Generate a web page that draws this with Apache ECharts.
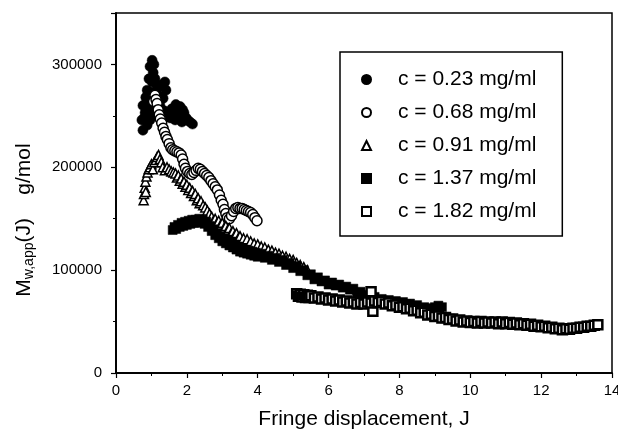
<!DOCTYPE html>
<html>
<head>
<meta charset="utf-8">
<script src="https://cdn.jsdelivr.net/npm/echarts@6/dist/echarts.min.js"></script>
<style>
	html, body { margin: 0; padding: 0; background: #fff; }
	#main { width: 618px; height: 432px; }
</style>
</head>
<body>
<div id="main"></div>
<script>
	// 图例名称
	var seriesNames = ['c = 0.23 mg/ml', 'c = 0.68 mg/ml', 'c = 0.91 mg/ml', 'c = 1.37 mg/ml', 'c = 1.82 mg/ml'];

	// x 轴刻度
	var xTicks = [0, 2, 4, 6, 8, 10, 12, 14];
	// y 轴刻度
	var yTicks = [0, 100000, 200000, 300000];

	// c = 0.23 mg/ml  [J, Mw]
	var c023 = [
		[0.76,236000],[0.73,246000],[0.82,253000],[0.76,260000],[0.88,241000],[0.90,265000],[0.96,273000],
		[0.88,275000],[1.02,283000],[0.93,286000],[1.05,292000],[0.96,298000],[1.02,304000],[1.07,300000],
		[1.10,286000],[1.16,277000],[1.02,260000],[1.07,250000],[0.96,246000],[0.84,268000],[1.19,270000],
		[1.27,280000],[1.38,283000],[1.41,275000],[1.33,267000],[1.24,260000],[1.36,255000],[1.47,253000],
		[1.58,257000],[1.69,261000],[1.81,259000],[1.75,251000],[1.67,246000],[1.92,253000],[1.98,248000],
		[2.09,244000],[2.16,242000],[1.86,244000],[1.53,248000],[1.62,252000],[1.88,256000],[2.02,246000],
		[0.80,248000],[0.92,256000],[1.12,268000]
	];

	// c = 0.68 mg/ml
	var c068 = [
		[1.06,264000],[1.10,270000],[1.13,266000],[1.16,262000],[1.19,256000],[1.22,251000],[1.25,247000],
		[1.29,243000],[1.33,238000],[1.37,234000],[1.41,230000],[1.45,227000],[1.50,223000],[1.55,219000],
		[1.60,217000],[1.66,216000],[1.72,215000],[1.78,214000],[1.84,212000],[1.88,208000],[1.92,203000],
		[1.96,199000],[2.02,196000],[2.08,194000],[2.14,193000],[2.20,195000],[2.26,197000],[2.32,199000],
		[2.38,198000],[2.44,196000],[2.50,194000],[2.56,192000],[2.62,190000],[2.68,187000],[2.74,184000],
		[2.80,181000],[2.86,178000],[2.92,173000],[2.97,168000],[3.02,164000],[3.06,159000],[3.10,155000],
		[3.14,151000],[3.20,150000],[3.26,153000],[3.32,157000],[3.38,160000],[3.44,161000],[3.50,160000],
		[3.56,160000],[3.62,159000],[3.68,158000],[3.74,157000],[3.80,156000],[3.86,154000],[3.92,151000],
		[3.98,148000]
	];

	// c = 0.91 mg/ml
	var c091 = [
		[0.78,168000],[0.79,174000],[0.81,180000],[0.83,186000],[0.86,191000],[0.89,195000],[0.92,198000],
		[0.84,176000],[0.96,200000],[1.00,203000],[1.04,198000],[1.08,205000],[1.12,207000],[1.16,210000],
		[1.20,212000],[1.24,208000],[1.28,205000],[1.32,200000],[1.38,197000],[1.44,200000],[1.50,198000],
		[1.56,196000],[1.62,195000],[1.68,194000],[1.72,190000],[1.76,192000],[1.80,187000],[1.84,189000],
		[1.88,184000],[1.92,186000],[1.96,181000],[2.00,183000],[2.04,178000],[2.08,180000],[2.12,175000],
		[2.16,177000],[2.20,172000],[2.24,174000],[2.28,168000],[2.32,170000],[2.36,165000],[2.40,167000],
		[2.46,163000],[2.52,161000],[2.58,158000],[2.64,155000],[2.70,152000],[2.75,148000],[2.80,150000],
		[2.85,146000],[2.90,148000],[2.95,144000],[3.00,146000],[3.05,141000],[3.10,143000],[3.15,139000],
		[3.20,141000],[3.25,136000],[3.30,138000],[3.35,134000],[3.40,136000],[3.45,131000],[3.50,133000],
		[3.60,131000],[3.70,130000],[3.80,128000],[3.90,126000],[4.00,125000],[4.10,123000],[4.20,122000],
		[4.30,120000],[4.40,119000],[4.50,117000],[4.60,116000],[4.70,114000],[4.80,113000],[4.90,111000],
		[5.00,110000],[5.10,107000],[5.20,105000],[5.30,103000],[5.40,100000]
	];

	// c = 1.37 mg/ml
	var c137 = [
		[1.60,139000],[1.65,142000],[1.70,140000],[1.75,144000],[1.80,142000],[1.85,146000],[1.90,143000],
		[1.95,147000],[2.00,144000],[2.05,148000],[2.10,145000],[2.15,149000],[2.20,146000],[2.25,149000],
		[2.30,146000],[2.35,150000],[2.40,147000],[2.45,149000],[2.50,145000],[2.55,147000],[2.60,142000],
		[2.65,143000],[2.70,138000],[2.75,139000],[2.80,134000],[2.85,136000],[2.90,131000],[2.95,133000],
		[3.00,128000],[3.05,131000],[3.10,126000],[3.15,129000],[3.20,124000],[3.25,127000],[3.30,122000],
		[3.35,125000],[3.40,120000],[3.45,123000],[3.50,118000],[3.55,121000],[3.60,117000],[3.65,120000],
		[3.70,116000],[3.75,119000],[3.80,115000],[3.85,118000],[3.90,114000],[3.95,117000],[4.00,113000],
		[4.10,116000],[4.20,112000],[4.30,114000],[4.40,110000],[4.50,112000],[4.60,108000],[4.70,110000],
		[4.80,105000],[4.90,107000],[5.00,102000],[5.10,104000],[5.20,99000],[5.30,100000],[5.40,95000],
		[5.50,96000],[5.60,91000],[5.70,93000],[5.80,89000],[5.90,90000],[6.00,86000],[6.10,88000],
		[6.20,85000],[6.30,86000],[6.40,83000],[6.50,84000],[6.60,81000],[6.70,82000],[6.80,78000],
		[6.90,79000],[7.00,75000],[7.10,76000],[7.20,73000],[7.30,74000],[7.40,71000],[7.50,72000],
		[7.60,70000],[7.70,71000],[7.80,69000],[7.90,70000],[8.00,68000],[8.10,69000],[8.20,67000],
		[8.30,67500],[8.40,65000],[8.50,66000],[8.60,63000],[8.70,64000],[8.80,62000],[8.90,63000],
		[9.00,64000],[9.10,65500],[9.20,64000]
	];

	// c = 1.82 mg/ml
	var c182 = [
		[5.10,77000],[5.15,74500],[5.20,76500],[5.25,74000],[5.30,76000],[5.35,73500],[5.40,75500],
		[5.45,73500],[5.50,75000],[5.60,73000],[5.70,74000],[5.80,72000],[5.90,73000],[6.00,71000],
		[6.10,72000],[6.20,70000],[6.30,71000],[6.40,69000],[6.50,70000],[6.60,68000],[6.70,69000],
		[6.80,67000],[6.90,68500],[7.00,67000],[7.10,69000],[7.20,79000],[7.25,60000],[7.20,68000],
		[7.30,70000],[7.40,68500],[7.50,69500],[7.60,67000],[7.70,68000],[7.80,65500],[7.90,66000],
		[8.00,64000],[8.10,64500],[8.20,62500],[8.30,63000],[8.40,60500],[8.50,61000],[8.60,58500],
		[8.70,59000],[8.80,56500],[8.90,57000],[9.00,55000],[9.10,55500],[9.20,53500],[9.30,54000],
		[9.40,52000],[9.50,52500],[9.60,50500],[9.70,51500],[9.80,49500],[9.90,50500],[10.00,49000],
		[10.10,50000],[10.20,48500],[10.30,50000],[10.40,48500],[10.50,49500],[10.60,48500],[10.70,49500],
		[10.80,48000],[10.90,49500],[11.00,48000],[11.10,49000],[11.20,47500],[11.30,48500],[11.40,47000],
		[11.50,48000],[11.60,46500],[11.70,47500],[11.80,45500],[11.90,46500],[12.00,45000],[12.10,45500],
		[12.20,44000],[12.30,44500],[12.40,43000],[12.50,43500],[12.60,42000],[12.70,43000],[12.80,42500],
		[12.90,43500],[13.00,43500],[13.10,44500],[13.20,44500],[13.30,45500],[13.40,45500],[13.50,46500],
		[13.60,47000]
	];

	var fontName = 'Liberation Sans, Arial, sans-serif';

	var filledStyle = { color: '#000', borderColor: '#000', borderWidth: 0.5, opacity: 1 };
	var openStyle = { color: '#fff', borderColor: '#000', borderWidth: 1.5, opacity: 1 };
	var denseOpenStyle = { color: '#fff', borderColor: '#000', borderWidth: 2.5, opacity: 1 };

	var buildSeries = function(name, data, symbol, size, style) {
		return {
			name: name,
			type: 'scatter',
			data: data,
			symbol: symbol,
			symbolSize: size,
			itemStyle: style,
			emphasis: { disabled: true }
		};
	};

	var axisCommon = {
		type: 'value',
		axisLine: { show: true, lineStyle: { color: '#000', width: 1.5 } },
		axisTick: { show: true, inside: false, length: 5, lineStyle: { color: '#000', width: 1.2 } },
		minorTick: { show: true, splitNumber: 2, length: 3, lineStyle: { color: '#000', width: 1 } },
		splitLine: { show: false },
		minorSplitLine: { show: false }
	};

	var option = {
		animation: false,
		backgroundColor: '#fff',
		grid: {
			left: 116,
			right: 6,
			top: 13,
			bottom: 59,
			outerBoundsMode: 'none',
			show: true,
			borderColor: '#000',
			borderWidth: 1.5,
			backgroundColor: 'transparent'
		},
		legend: {
			data: seriesNames,
			orient: 'vertical',
			left: 340,
			top: 52,
			padding: [17, 26, 14, 21],
			itemGap: 12,
			itemWidth: 9,
			itemHeight: 9,
			borderColor: '#000',
			borderWidth: 1.5,
			backgroundColor: '#fff',
			selectedMode: false,
			textStyle: { fontFamily: fontName, fontSize: 21, color: '#000', padding: [0, 0, 0, 22] }
		}
	};

	option.xAxis = [
		Object.assign({}, axisCommon, {
			min: xTicks[0],
			max: xTicks[xTicks.length - 1],
			interval: 2,
			name: 'Fringe displacement, J',
			nameLocation: 'middle',
			nameGap: 36,
			nameTextStyle: { fontFamily: fontName, fontSize: 21, color: '#000' },
			axisLabel: { fontFamily: fontName, fontSize: 15, color: '#000', margin: 10 }
		}),
		Object.assign({}, axisCommon, {
			position: 'top',
			min: xTicks[0],
			max: xTicks[xTicks.length - 1],
			interval: 2,
			axisTick: { show: true, inside: true, length: 4, lineStyle: { color: '#000' } },
			minorTick: { show: true, splitNumber: 2, length: 2, lineStyle: { color: '#000' } },
			axisLabel: { show: false }
		})
	];

	option.yAxis = [
		Object.assign({}, axisCommon, {
			min: yTicks[0],
			max: 350000,
			interval: 100000,
			name: '{m|M}{s|w,app}{m|(J)    g/mol}',
			nameLocation: 'middle',
			nameGap: 80,
			nameTextStyle: {
				fontFamily: fontName,
				color: '#000',
				padding: [0, 54, 0, 0],
				rich: {
					m: { fontFamily: fontName, fontSize: 21, lineHeight: 24, color: '#000' },
					s: { fontFamily: fontName, fontSize: 14, lineHeight: 8, verticalAlign: 'bottom', color: '#000' }
				}
			},
			axisLabel: {
				fontFamily: fontName, fontSize: 15, color: '#000', margin: 14, showMaxLabel: false,
				formatter: function(v) { return String(v); }
			}
		}),
		Object.assign({}, axisCommon, {
			position: 'right',
			min: yTicks[0],
			max: 350000,
			interval: 100000,
			axisTick: { show: true, inside: true, length: 4, lineStyle: { color: '#000' } },
			minorTick: { show: true, splitNumber: 2, length: 2, lineStyle: { color: '#000' } },
			axisLabel: { show: false }
		})
	];

	option.series = [
		buildSeries(seriesNames[0], c023, 'circle', 10, filledStyle),
		buildSeries(seriesNames[1], c068, 'circle', 10, openStyle),
		buildSeries(seriesNames[2], c091, 'triangle', 9, openStyle),
		buildSeries(seriesNames[3], c137, 'rect', 9, filledStyle),
		buildSeries(seriesNames[4], c182, 'rect', 9, denseOpenStyle)
	];

	var myChart = echarts.init(document.getElementById('main'), null, { renderer: 'canvas' });
	myChart.setOption(option);
</script>
</body>
</html>
